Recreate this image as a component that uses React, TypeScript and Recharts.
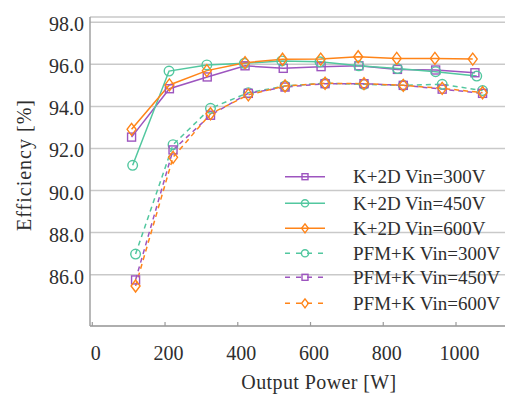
import React from 'react';
import { LineChart, Line, XAxis, YAxis, CartesianGrid, Legend } from 'recharts';

// K+2D series
const k300Power = [108, 212, 316, 420, 525, 629, 733, 839, 944, 1052];
const k300Eff = [92.54, 94.84, 95.4, 95.93, 95.81, 95.89, 95.93, 95.76, 95.73, 95.6];
const k450Power = [111, 211, 315, 418, 521, 626, 733, 839, 944, 1057];
const k450Eff = [91.2, 95.68, 95.97, 96.05, 96.16, 96.12, 95.93, 95.8, 95.65, 95.44];
const k600Power = [108, 212, 315, 420, 523, 628, 731, 837, 942, 1046];
const k600Eff = [92.91, 95.02, 95.7, 96.08, 96.24, 96.25, 96.36, 96.28, 96.28, 96.25];

// PFM+K series
const pfmPower = [119, 222, 325, 429, 530, 640, 747, 855, 962, 1073];
const pfmGreenEff = [86.98, 92.18, 93.91, 94.65, 94.97, 95.1, 95.05, 95.0, 95.05, 94.75];
const pfmPurpleEff = [85.75, 91.93, 93.58, 94.62, 94.92, 95.08, 95.08, 95.0, 94.82, 94.62];
const pfmOrangeEff = [85.46, 91.58, 93.65, 94.55, 94.97, 95.1, 95.08, 95.0, 94.86, 94.65];

const xTicks = [0, 200, 400, 600, 800, 1000];
const yTicks = [86, 88, 90, 92, 94, 96, 98];

const PURPLE = '#9d55bf';
const GREEN = '#52c79f';
const ORANGE = '#ff8418';
const FONT = 'Liberation Serif';
const TEXT = '#2e2e2e';

const zip = (xs: number[], ys: number[]) => xs.map((x, i) => ({ x, y: ys[i] }));

type Shape = 'square' | 'circle' | 'diamond';

function Marker({ shape, cx, cy, color, s = 1 }: { shape: Shape; cx: number; cy: number; color: string; s?: number }) {
  if (shape === 'square') {
    return <rect x={cx - 4 * s} y={cy - 4 * s} width={8 * s} height={8 * s} fill="none" stroke={color} strokeWidth={1.4} />;
  }
  if (shape === 'circle') {
    return <circle cx={cx} cy={cy} r={4.8 * s} fill="none" stroke={color} strokeWidth={1.4} />;
  }
  return (
    <polygon
      points={`${cx},${cy - 6 * s} ${cx + 4.5 * s},${cy} ${cx},${cy + 6 * s} ${cx - 4.5 * s},${cy}`}
      fill="none"
      stroke={color}
      strokeWidth={1.4}
    />
  );
}

const makeDot = (shape: Shape, color: string) => (props: any) => {
  const { cx, cy, index } = props;
  if (cx == null || cy == null) return <g key={`d-${index}`} />;
  return (
    <g key={`d-${shape}-${color}-${index}`}>
      <Marker shape={shape} cx={cx} cy={cy} color={color} />
    </g>
  );
};

const seriesDefs = [
  { name: 'K+2D Vin=300V', data: zip(k300Power, k300Eff), color: PURPLE, shape: 'square' as Shape, dashed: false },
  { name: 'K+2D Vin=450V', data: zip(k450Power, k450Eff), color: GREEN, shape: 'circle' as Shape, dashed: false },
  { name: 'K+2D Vin=600V', data: zip(k600Power, k600Eff), color: ORANGE, shape: 'diamond' as Shape, dashed: false },
  { name: 'PFM+K Vin=300V', data: zip(pfmPower, pfmGreenEff), color: GREEN, shape: 'circle' as Shape, dashed: true },
  { name: 'PFM+K Vin=450V', data: zip(pfmPower, pfmPurpleEff), color: PURPLE, shape: 'square' as Shape, dashed: true },
  { name: 'PFM+K Vin=600V', data: zip(pfmPower, pfmOrangeEff), color: ORANGE, shape: 'diamond' as Shape, dashed: true },
];

const legendRowY = [13.7, 40.3, 65.3, 90.3, 114.3, 140.3];

function LegendBox() {
  return (
    <svg width={235} height={160} style={{ display: 'block', overflow: 'visible' }}>
      {seriesDefs.map((s, i) => {
        const y = legendRowY[i];
        return (
          <g key={s.name}>
            <line x1={7} x2={47} y1={y} y2={y} stroke={s.color} strokeWidth={1.5} strokeDasharray={s.dashed ? '5 6' : undefined} />
            <Marker shape={s.shape} cx={27} cy={y} color={s.color} s={0.75} />
            <text x={75} y={y + 6.5} fontFamily={FONT} fontSize={19} fill={TEXT}>
              {s.name}
            </text>
          </g>
        );
      })}
    </svg>
  );
}

const XTick = (props: any) => {
  const { x, y, payload } = props;
  return (
    <g>
      <line x1={x} x2={x} y1={y} y2={y - 4} stroke="#9a9a9a" strokeWidth={1.2} />
      <text x={x + 3.5} y={y + 34} textAnchor="middle" fontFamily={FONT} fontSize={20} fill={TEXT}>
        {payload.value}
      </text>
    </g>
  );
};

const YTick = (props: any) => {
  const { x, y, payload } = props;
  return (
    <text x={x - 6} y={y + 9} textAnchor="end" fontFamily={FONT} fontSize={20} fill={TEXT}>
      {Number(payload.value).toFixed(1)}
    </text>
  );
};

export default function App() {
  return (
    <div style={{ width: 505, height: 393, position: 'relative' }}>
      <LineChart width={505} height={393} margin={{ top: 9, right: 0, bottom: 0, left: 0 }}>
        <CartesianGrid vertical={false} stroke="#c9c9c9" strokeWidth={1.5} />
        <XAxis
          type="number"
          dataKey="x"
          domain={[-6.3, 1156.7]}
          ticks={xTicks}
          height={75}
          tickSize={0}
          tickMargin={0}
          tickLine={false}
          axisLine={{ stroke: '#a0a0a0', strokeWidth: 1.5 }}
          tick={<XTick />}
          interval={0}
          allowDataOverflow
          label={{
            content: () => (
              <text x={311} y={381} textAnchor="middle" fontFamily={FONT} fontSize={20} letterSpacing={0.4} fill={TEXT}>
                Output Power [W]
              </text>
            ),
          }}
        />
        <YAxis
          type="number"
          domain={[83.56, 98.25]}
          ticks={yTicks}
          width={82}
          tickSize={0}
          tickMargin={0}
          tickLine={false}
          axisLine={{ stroke: '#a0a0a0', strokeWidth: 1.5 }}
          tick={<YTick />}
          interval={0}
          allowDataOverflow
          label={{
            content: () => (
              <text
                x={0}
                y={0}
                transform="translate(23, 157) rotate(-90)"
                textAnchor="middle"
                fontFamily={FONT}
                fontSize={20}
                letterSpacing={1}
                fill={TEXT}
              >
                Efficiency [%]
              </text>
            ),
          }}
        />
        <Legend
          layout="vertical"
          align="center"
          verticalAlign="middle"
          wrapperStyle={{ position: 'absolute', left: 270, top: 155, width: 235, height: 160 }}
          content={() => <LegendBox />}
        />
        {seriesDefs.map((s) => (
          <Line
            key={s.name}
            name={s.name}
            data={s.data}
            dataKey="y"
            type="linear"
            stroke={s.color}
            strokeWidth={1.5}
            strokeDasharray={s.dashed ? '5 4' : undefined}
            dot={makeDot(s.shape, s.color)}
            activeDot={false}
            isAnimationActive={false}
          />
        ))}
      </LineChart>
    </div>
  );
}
